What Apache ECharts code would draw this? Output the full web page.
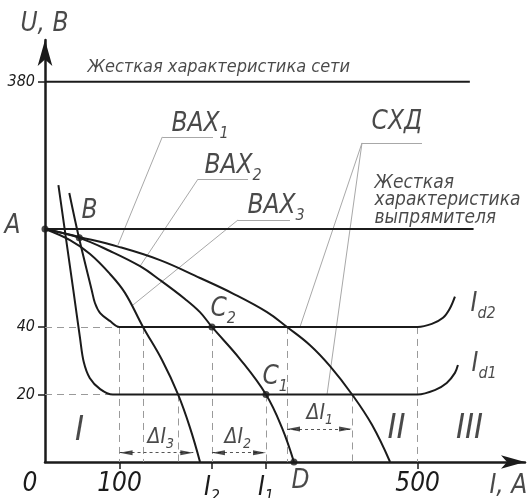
<!DOCTYPE html>
<html><head><meta charset="utf-8">
<script src="https://cdn.jsdelivr.net/npm/echarts@6/dist/echarts.min.js"></script>
<style>html,body{margin:0;padding:0;background:#fff}#c{width:530px;height:498px}</style>
</head><body><div id="c"></div>
<script>
// ---------------- DATA ----------------
// Current I in A; voltage U on the drawing's schematic (broken) scale:
// 20 and 40 are true values, U_A and the 380 V network level are drawn compressed.
const U_A = 69;          // level of point A (rectifier hard characteristic)
const U_NET = 112.6;     // drawn level of the 380 V network hard characteristic
const yTickValues = [20, 40, U_NET];
const yTickLabels = ['20', '40', '380'];
const xTickValues = [100, 224, 296.5, 500];
const xLabelValues = [0, 100, 224, 296.5, 500];
const xLabelTexts = ['{z|0}', '{n|100}', '{m|I}{s|2}', '{m|I}{s|1}', '{n|500}'];

// Hard characteristics (horizontal)
const netI = [0, 570];
const rectI = [0, 575];

// Volt-ampere characteristics ВАХ1..3 (start at A)
const vax1I = [0, 47, 98, 154.3, 208, 252.2, 297.9, 324.7, 355.6, 382.4, 412, 438.7, 463];
const vax1U = [U_A, 66.6, 63.8, 59.8, 54.5, 49.9, 44.4, 40, 34.6, 28.4, 20, 11.0, 0];
const vax2I = [0, 46, 87.2, 127.5, 154.3, 187.8, 207.9, 224, 261.6, 296.5, 318, 334];
const vax2U = [U_A, 66.4, 62.5, 58.0, 53.9, 48.3, 44.4, 40, 30.5, 20, 10.1, 0];
const vax3I = [0, 33.5, 60.4, 87.2, 107.3, 131.5, 157, 178.5, 194.6, 208];
const vax3U = [U_A, 65.7, 61.6, 55.7, 50.1, 40, 30.2, 20, 10.1, 0];

// Welding-arc (СХД) characteristics Id1, Id2
const id1I = [18, 38, 47, 52, 60, 74, 91, 105, 490, 500, 523, 539, 550, 554];
const id1U = [82, 50.9, 36.7, 29.6, 24.9, 21.6, 20, 20, 20, 20, 21.3, 23.4, 26.4, 28.7];
const id2I = [32.6, 45.6, 62.7, 67, 74, 87, 100, 112, 490, 500, 519, 534, 543, 550];
const id2U = [79.7, 66.4, 50.9, 47.1, 44.1, 41.8, 40, 40, 40, 40, 40.9, 42.7, 45.4, 49];

// Marked points
const pointNames = ['A', 'B', 'C2', 'C1', 'D'];
const pointI = [0, 46, 224, 296.5, 334];
const pointU = [U_A, 66.4, 40, 20, 0];

// Dimension intervals ΔI3, ΔI2, ΔI1
const dimFrom = [100, 224, 324.7];
const dimTo = [199, 296.5, 412];
const dimLevel = [2.75, 2.75, 9.8];

// ---------------- STYLE / LAYOUT ----------------
const FONT = '"Liberation Sans Narrow", "DejaVu Sans Condensed", "Liberation Sans", sans-serif';
const INK = '#1b1b1b';
const GUIDE = '#9a9a9a';
const GRID = { left: 45, right: 5, top: 40, bottom: 36 };
const XMAX = 644, YMAX = 125;
const PXU = (530 - GRID.left - GRID.right) / XMAX;   // pixels per ampere
const ARROW_LEN = 13;

function pts(I, U) { return I.map((x, i) => [x, U[i]]); }
function curve(I, U, smooth) {
  return { type: 'line', data: pts(I, U), symbol: 'none', smooth: smooth, clip: false,
    lineStyle: { color: INK, width: 2 }, silent: true, z: 4, animation: false };
}
const rich = {
  z: { fontSize: 26, fontFamily: FONT, fontStyle: 'italic', color: INK, padding: [0, 30, 0, 0] },
  n: { fontSize: 26, fontFamily: FONT, fontStyle: 'italic', color: INK },
  m: { fontSize: 26, fontFamily: FONT, fontStyle: 'italic', color: INK },
  s: { fontSize: 16, fontFamily: FONT, fontStyle: 'italic', color: INK, padding: [18, 0, 0, 0] },
  t: { fontSize: 21, fontFamily: FONT, fontStyle: 'italic', color: INK },
  h: { fontSize: 18, fontFamily: FONT, fontStyle: 'italic', color: INK },
  ts: { fontSize: 14, fontFamily: FONT, fontStyle: 'italic', color: INK, padding: [14, 0, 0, 0] },
  r: { fontSize: 34, fontFamily: FONT, fontStyle: 'italic', color: INK },
  p: { fontSize: 19, fontFamily: FONT, fontStyle: 'italic', color: INK, lineHeight: 17.5 }
};
function ann(I, U, text, align) {
  return { value: [I, U], label: { show: true, formatter: text, position: [0, 0],
    align: align || 'left', verticalAlign: 'middle', rich: rich } };
}
const annotations = [
  ann(57.7, 116.7, '{h|Жесткая характеристика сети}'),
  ann(442.8, 77.4, '{p|Жесткая}\n{p|характеристика}\n{p|выпрямителя}'),
  ann(170.4, 99.8, '{m|BAX}{s|1}'),
  ann(214.7, 87.4, '{m|BAX}{s|2}'),
  ann(272.4, 75.5, '{m|BAX}{s|3}'),
  ann(438.8, 100.4, '{m|СХД}'),
  ann(-42.9, 69.6, '{m|A}', 'center'),
  ann(60.4, 74.1, '{m|B}', 'center'),
  ann(222.7, 45.0, '{m|C}{s|2}'),
  ann(292.5, 24.9, '{m|C}{s|1}'),
  ann(343.5, -5.9, '{m|D}', 'center'),
  ann(138.2, 7.1, '{t|ΔI}{ts|3}'),
  ann(241.5, 7.1, '{t|ΔI}{ts|2}'),
  ann(351.5, 14.2, '{t|ΔI}{ts|1}'),
  ann(571.6, 46.5, '{m|I}{s|d2}'),
  ann(572.9, 28.7, '{m|I}{s|d1}'),
  ann(47, 8.9, '{r|I}', 'center'),
  ann(472.3, 9.5, '{r|II}', 'center'),
  ann(570.3, 9.5, '{r|III}', 'center'),
  ann(597, -7.4, '{m|I, A}'),
  ann(0, 129.4, '{m|U, B}', 'center')
];

// guides (dashed) built from the characteristic values
const lvl40 = 40, lvl20 = 20;
const guides = [
  [[0, lvl40], [id2I[6], lvl40]],
  [[0, lvl20], [id1I[6], lvl20]],
  [[100, lvl40], [100, 0]],
  [[vax3I[5], lvl40], [vax3I[5], 0]],
  [[vax3I[7], lvl20], [vax3I[7], 0]],
  [[vax2I[7], lvl40], [vax2I[7], 0]],
  [[vax2I[9], lvl20], [vax2I[9], 0]],
  [[vax1I[7], lvl40], [vax1I[7], 0]],
  [[vax1I[10], lvl20], [vax1I[10], 0]],
  [[500, lvl40], [500, 0]]
];
// leader lines from labels to curves
const leaders = [
  [[157.4, 96.3], [225.4, 96.3]], [[157.4, 96.3], [97.9, 64.3]],
  [[205.3, 83.8], [272.4, 83.8]], [[205.3, 83.8], [127.5, 58.0]],
  [[259, 71.7], [328.7, 71.7]], [[259, 71.7], [118, 46.5]],
  [[425.3, 94.5], [505.8, 94.5]], [[425.3, 94.5], [342.1, 40]], [[425.3, 94.5], [378.4, 20]]
];
// arrowheads of the dimension lines (tip at the interval ends)
const half = ARROW_LEN / 2 / PXU;
const arrowHeads = [];
dimFrom.forEach((f, i) => {
  arrowHeads.push({ value: [f + half, dimLevel[i]], symbolRotate: 90 });
  arrowHeads.push({ value: [dimTo[i] - half, dimLevel[i]], symbolRotate: -90 });
});

const option = {
  animation: false,
  backgroundColor: '#fff',
  grid: Object.assign({ containLabel: false, outerBoundsMode: 'none' }, GRID),
  xAxis: {
    type: 'value', min: 0, max: XMAX,
    axisLine: { show: true, symbol: ['none', 'arrow'], symbolSize: [10, 24], lineStyle: { color: INK, width: 2.5 } },
    axisTick: { show: true, customValues: xTickValues, length: 7, lineStyle: { color: INK, width: 1.5 } },
    axisLabel: { show: true, customValues: xLabelValues, margin: 9, rich: rich,
      formatter: v => xLabelTexts[xLabelValues.indexOf(v)] || '' },
    splitLine: { show: false }
  },
  yAxis: {
    type: 'value', min: 0, max: YMAX,
    axisLine: { show: true, symbol: ['none', 'arrow'], symbolSize: [11, 26], lineStyle: { color: INK, width: 2.5 } },
    axisTick: { show: true, customValues: yTickValues, length: 7, lineStyle: { color: INK, width: 1.5 } },
    axisLabel: { show: true, customValues: yTickValues, margin: 10, fontSize: 16, fontFamily: FONT,
      fontStyle: 'italic', color: INK, formatter: v => yTickLabels[yTickValues.indexOf(v)] || '' },
    splitLine: { show: false }
  },
  series: [
    { type: 'lines', coordinateSystem: 'cartesian2d', clip: false, silent: true, z: 2,
      lineStyle: { color: GUIDE, width: 1, type: [7, 5], opacity: 1 },
      data: guides.map(c => ({ coords: c })) },
    { type: 'lines', coordinateSystem: 'cartesian2d', clip: false, silent: true, z: 2,
      lineStyle: { color: '#a8a8a8', width: 1, opacity: 1 },
      data: leaders.map(c => ({ coords: c })) },
    { type: 'lines', coordinateSystem: 'cartesian2d', clip: false, silent: true, z: 3,
      lineStyle: { color: '#555', width: 1, type: [3, 3], opacity: 1 },
      data: dimFrom.map((f, i) => ({ coords: [[f, dimLevel[i]], [dimTo[i], dimLevel[i]]] })) },
    { type: 'scatter', data: arrowHeads, symbol: 'path://M0,0L4,14L-4,14Z', symbolSize: [5, ARROW_LEN],
      itemStyle: { color: INK }, z: 5, clip: false, silent: true },
    curve(netI, [U_NET, U_NET], false),
    curve(rectI, [U_A, U_A], false),
    curve(vax1I, vax1U, 0.4),
    curve(vax2I, vax2U, 0.4),
    curve(vax3I, vax3U, 0.4),
    curve(id1I, id1U, 0.35),
    curve(id2I, id2U, 0.35),
    { type: 'scatter', data: pts(pointI, pointU), symbolSize: 7, itemStyle: { color: INK }, z: 6, clip: false, silent: true },
    { type: 'scatter', data: annotations, symbolSize: 1, z: 7, clip: false, silent: true,
      itemStyle: { color: 'rgba(0,0,0,0)' } }
  ]
};
echarts.init(document.getElementById('c'), null, { renderer: 'canvas' }).setOption(option);
</script>
</body></html>
